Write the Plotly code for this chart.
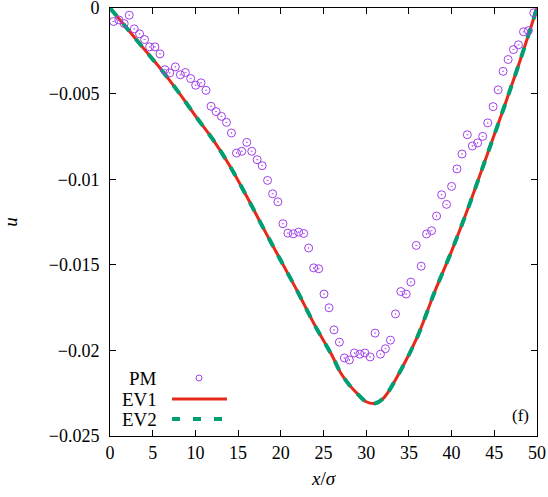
import plotly.graph_objects as go

# PM data
pm_x = [0.41, 1.04, 1.66, 2.25, 2.84, 3.46, 4.05, 4.64, 5.26, 5.85, 6.43, 7.0, 7.65, 8.24, 8.83,
        9.45, 10.03, 10.66, 11.24, 11.83, 12.42, 13.05, 13.64, 14.22, 14.81, 15.43, 16.02, 16.6,
        17.23, 17.82, 18.45, 19.04, 19.66, 20.25, 20.83, 21.46, 22.09, 22.68, 23.26, 23.85, 24.44,
        25.06, 25.65, 26.23, 26.86, 27.44, 28.03, 28.62, 29.25, 29.84, 30.46, 31.04, 31.67, 32.25,
        32.84, 33.43, 34.06, 34.68, 35.23, 35.86, 36.44, 37.07, 37.65, 38.24, 38.83, 39.41, 40.0,
        40.63, 41.22, 41.84, 42.43, 43.05, 43.64, 44.23, 44.86, 45.45, 46.03, 46.62, 47.24, 47.83,
        48.42, 49.0, 49.62]
pm_y = [-0.00079, -0.0007, -0.00091, -0.00042, -0.00122, -0.00151, -0.00184, -0.00227, -0.00227,
        -0.00268, -0.0036, -0.00379, -0.00344, -0.0039, -0.00377, -0.00412, -0.00451, -0.00437,
        -0.00481, -0.00574, -0.00605, -0.00633, -0.00668, -0.0073, -0.00847, -0.00837, -0.00785,
        -0.00837, -0.00886, -0.00921, -0.01007, -0.01085, -0.01132, -0.0126, -0.01315, -0.01319,
        -0.01309, -0.01317, -0.01402, -0.01518, -0.01523, -0.01671, -0.01751, -0.0188, -0.01952,
        -0.02044, -0.02056, -0.02015, -0.02022, -0.02015, -0.02038, -0.01899, -0.02022, -0.0199,
        -0.0194, -0.01787, -0.01656, -0.01671, -0.01601, -0.01387, -0.01508, -0.0132, -0.01301,
        -0.01215, -0.01091, -0.01147, -0.01042, -0.0094, -0.00853, -0.0074, -0.00806, -0.00788,
        -0.0075, -0.00671, -0.00576, -0.00478, -0.0037, -0.00301, -0.00243, -0.00215, -0.00139,
        -0.00132, -0.00028]

# EV curves
ev_x = [0, 2, 4, 6, 8, 10, 12, 14, 16, 18, 20, 22, 24, 26, 27, 28, 29, 30, 31, 32, 34, 36,
        38, 40, 42, 44, 46, 48, 50]
ev1_y = [0, -0.0012, -0.0024, -0.0036, -0.0049, -0.0063, -0.00765, -0.0092, -0.0110, -0.0129,
         -0.01475, -0.0166, -0.01855, -0.0203, -0.0213, -0.0220, -0.02255, -0.0230, -0.0231,
         -0.0228, -0.0212, -0.0192, -0.0166, -0.0142, -0.0116, -0.0088, -0.0060, -0.0031, 0]
ev2_y = list(ev1_y)

x_ticks = [0, 5, 10, 15, 20, 25, 30, 35, 40, 45, 50]
y_ticks = [0, -0.005, -0.01, -0.015, -0.02, -0.025]
y_ticktext = ["0", "\u22120.005", "\u22120.01", "\u22120.015", "\u22120.02", "\u22120.025"]

FONT = "Liberation Serif"
PURPLE = "#a040e8"
RED = "#e52a1c"
GREEN = "#009e73"

W, H = 548, 497
ML, MR, MT, MB = 110, 11, 8, 61
PW, PH = W - ML - MR, H - MT - MB

def px(p):
    return (p - ML) / PW
def py(p):
    return 1 - (p - MT) / PH

fig = go.Figure()
fig.add_trace(go.Scatter(x=ev_x, y=ev1_y, mode="lines", line=dict(color=RED, width=3, shape="spline"),
                         name="EV1", showlegend=False))
fig.add_trace(go.Scatter(x=ev_x, y=ev2_y, mode="lines",
                         line=dict(color=GREEN, width=4, shape="spline", dash="10px,10px"),
                         name="EV2", showlegend=False))
fig.add_trace(go.Scatter(x=pm_x, y=pm_y, mode="markers",
                         marker=dict(symbol="circle-open-dot", size=8, color=PURPLE,
                                     line=dict(width=1, color=PURPLE)),
                         name="PM", showlegend=False))

# manual legend (gnuplot style: text right-aligned, sample to the right)
leg = [("PM", 378), ("EV1", 399), ("EV2", 419)]
for txt, yy in leg:
    fig.add_annotation(text=txt, x=px(159), y=py(yy), xref="paper", yref="paper",
                       xanchor="right", yanchor="middle", showarrow=False,
                       font=dict(family=FONT, size=19, color="black"))
fig.add_shape(type="circle", xref="paper", yref="paper", x0=px(196), x1=px(202),
              y0=py(381), y1=py(375), line=dict(color=PURPLE, width=1))
fig.add_shape(type="line", xref="paper", yref="paper", x0=px(172), x1=px(227),
              y0=py(399), y1=py(399), line=dict(color=RED, width=3))
fig.add_shape(type="line", xref="paper", yref="paper", x0=px(172), x1=px(227),
              y0=py(419), y1=py(419), line=dict(color=GREEN, width=4, dash="8px,13px"))
fig.add_annotation(text="(f)", x=px(531), y=py(415), xref="paper", yref="paper",
                   xanchor="right", yanchor="middle", showarrow=False,
                   font=dict(family=FONT, size=17, color="black"))

fig.update_layout(
    width=W, height=H,
    margin=dict(l=ML, r=MR, t=MT, b=MB),
    plot_bgcolor="white", paper_bgcolor="white",
    font=dict(family=FONT, size=17, color="black"),
    xaxis=dict(range=[0, 50], tickvals=x_ticks, ticks="inside", ticklen=6, tickcolor="black",
               tickfont=dict(family=FONT, size=18), ticklabeloverflow="allow",
               showline=True, linecolor="black", linewidth=1, mirror="allticks",
               showgrid=False, zeroline=False, automargin=False,
               title=dict(text="<i>x</i>/<i>σ</i>", standoff=10, font=dict(family=FONT, size=19))),
    yaxis=dict(range=[-0.025, 0], tickvals=y_ticks, ticktext=y_ticktext, ticks="inside",
               ticklen=6, tickcolor="black", tickfont=dict(family=FONT, size=18),
               ticklabeloverflow="allow",
               showline=True, linecolor="black", linewidth=1, mirror="allticks",
               showgrid=False, zeroline=False, ticklabelstandoff=6, automargin=False,
               title=dict(text="<i>u</i>", standoff=34, font=dict(family=FONT, size=19))),
)

fig.write_html("out.html", config={"displayModeBar": False},
               post_script="document.body.style.margin='0';document.body.style.overflow='hidden';")
